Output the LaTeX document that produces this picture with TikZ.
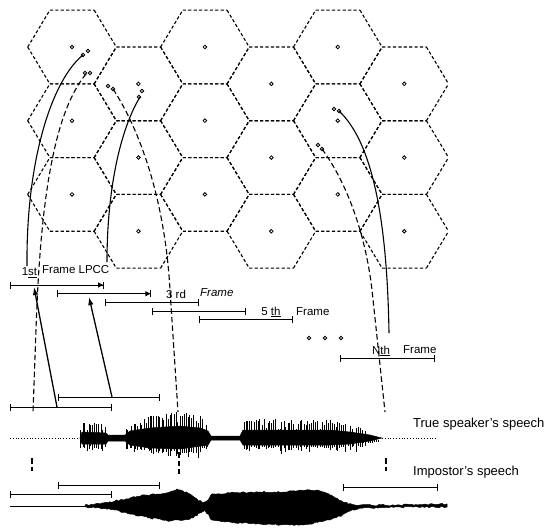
\documentclass[tikz,border=0pt]{standalone}
\usepackage{fontspec}
\setsansfont{Liberation Sans}
\usetikzlibrary{arrows.meta, decorations.pathmorphing}
\tikzset{
    cell/.style={black, line width=1.1pt, dash pattern=on 3.2pt off 2.2pt},
    site/.style={black, line width=0.8pt},
    track/.style={black, line width=1.1pt},
    trackdash/.style={black, line width=1.1pt, dash pattern=on 5.5pt off 3pt},
    frameline/.style={black, line width=0.9pt},
    ticks/.style={{Bar[width=7pt]}-{Bar[width=7pt]}},
    bartri/.style={{Bar[width=7pt]}-{Triangle[length=5pt,width=5pt]Bar[width=7pt]}},
    pick/.style={black, line width=1.3pt, -{Latex[length=8pt,width=5.5pt]}},
    spike/.style={black, line width=0.8pt},
    body/.style={fill=black, draw=black, line width=0.5pt},
    lbl/.style={inner sep=0pt, font=\sffamily\fontsize{11.5}{12}\selectfont},
    biglbl/.style={inner sep=0pt, anchor=west, font=\sffamily\fontsize{13}{14}\selectfont},
    common settings/.style={x=1pt, y=-1pt}
}

\begin{document}
\begin{tikzpicture}[common settings]

    \useasboundingbox (0,0) rectangle (551,528);

    % Configuration
    \def\hexR{44.3}     % circumradius of a cell
    \def\hexH{36.85}    % half height of a cell
    \def\xo{72}         % first cell centre
    \def\yo{47}

    % 1. Hexagonal code book cells (edges drawn left to right so shared ones coincide)
    \foreach \i in {0,...,5} {
        \foreach \j in {0,1,2} {
            \pgfmathsetmacro{\cx}{\xo + \i*1.5*\hexR}
            \pgfmathsetmacro{\cy}{\yo + \j*2*\hexH + mod(\i,2)*\hexH}
            \draw[cell] (\cx-\hexR,\cy) -- (\cx-\hexR/2,\cy-\hexH)
                        (\cx-\hexR,\cy) -- (\cx-\hexR/2,\cy+\hexH)
                        (\cx-\hexR/2,\cy-\hexH) -- (\cx+\hexR/2,\cy-\hexH)
                        (\cx-\hexR/2,\cy+\hexH) -- (\cx+\hexR/2,\cy+\hexH)
                        (\cx+\hexR/2,\cy-\hexH) -- (\cx+\hexR,\cy)
                        (\cx+\hexR/2,\cy+\hexH) -- (\cx+\hexR,\cy);
            \draw[site] (\cx,\cy) circle (1.8pt);
        }
    }

    % 2. Trajectories of the frames into the cells
    \coordinate (tA0) at (27,266);  \coordinate (tA1) at (83,55);
    \coordinate (tB0) at (33,412);  \coordinate (tB1) at (86,74);
    \coordinate (tC0) at (178,412); \coordinate (tC1) at (113,89);
    \coordinate (tE0) at (107,262); \coordinate (tE1) at (140,97);
    \coordinate (tF0) at (389,333); \coordinate (tF1) at (339,111);
    \coordinate (tD0) at (385,412); \coordinate (tD1) at (322,149);

    \draw[track] (tA0) .. controls (26,160) and (52,80) .. (tA1);
    \draw[track] (tE0) .. controls (107,190) and (120,130) .. (tE1);
    \draw[track] (tF0) .. controls (387,210) and (370,140) .. (tF1);
    \draw[trackdash] (tB1) .. controls (52,115) and (40,210) .. (36,330) -- (tB0);
    \draw[trackdash] (tC1) .. controls (140,130) and (165,200) .. (170,290) -- (tC0);
    \draw[trackdash] (tD1) .. controls (345,180) and (365,230) .. (372,290) -- (tD0);

    % end points of the trajectories
    \foreach \p in {(83,55),(88,51),(85,73),(90,73),(108,86),(113,89),
                    (142,91),(139,97),(334,109),(339,111),(318,145),(322,149)}
        \draw[site] \p circle (1.8pt);

    % 3. Frame lines
    \foreach \k/\tip in {1/bartri, 2/bartri, 3/ticks, 4/ticks, 5/ticks} {
        \pgfmathsetmacro{\fx}{10 + 47.3*(\k-1)}
        \pgfmathsetmacro{\fy}{285 + 8.7*(\k-1)}
        \coordinate (fr\k a) at (\fx,\fy);
        \coordinate (fr\k b) at (\fx+94,\fy);
        \draw[frameline,\tip] (fr\k a) -- (fr\k b);
    }
    \coordinate (frNa) at (340,358); \coordinate (frNb) at (435,358);
    \draw[frameline,ticks] (frNa) -- (frNb);

    \node[lbl] (first) at (29.5,273) {1\underline{st}};
    \node[lbl, anchor=west] (lpcc) at (42,270) {Frame LPCC};
    \node[lbl] (third) at (176,294) {3 rd};
    \node[lbl, anchor=west] (thirdfr) at (200,293) {\itshape Frame};
    \node[lbl] (fifth) at (271,312) {5 \underline{th}};
    \node[lbl, anchor=west] (fifthfr) at (296,312) {Frame};
    \node[lbl] (nth) at (381,351) {N\underline{th}};
    \node[lbl, anchor=west] (nthfr) at (403,350) {Frame};

    \foreach \x in {309,325,341}
        \draw[site] (\x,338) circle (1.8pt);

    % 4. True speaker's speech
    \coordinate (tsA1) at (10,407);  \coordinate (tsA2) at (112,407);
    \coordinate (tsB1) at (58,397);  \coordinate (tsB2) at (160,397);
    \draw[frameline,ticks] (tsA1) -- (tsA2);
    \draw[frameline,ticks] (tsB1) -- (tsB2);

    \coordinate (foot1) at (57,407); \coordinate (head1) at (34,287);
    \coordinate (foot2) at (112,397); \coordinate (head2) at (89,297);
    \draw[pick] (foot1) -- (head1);
    \draw[pick] (foot2) -- (head2);

    \draw[black, line width=0.8pt, dotted] (10,438) -- (80,438);
    \draw[black, line width=0.8pt, dotted] (382,438) -- (437,438);
    \fill[body] (80,438) -- (82,432) -- (106,433) -- (108,435) -- (125,435)
        -- (130,431) -- (150,428) -- (180,426) -- (200,428) -- (208,431)
        -- (211,436) -- (240,436) -- (243,430) -- (330,430) -- (350,432)
        -- (370,435) -- (382,438) -- (370,441) -- (350,444) -- (330,445)
        -- (243,445) -- (240,440) -- (211,440) -- (208,445) -- (180,449)
        -- (150,448) -- (130,445) -- (125,441) -- (108,441) -- (106,444)
        -- (82,444) -- cycle;

    \pgfmathsetseed{11}
    \foreach \xa/\xb/\ta/\tb/\bb in {81/106/421/425/446, 126/150/428/416/448,
            150/180/416/411/451, 180/200/411/416/452, 200/208/416/428/447,
            244/330/419/420/447, 330/360/420/427/446, 360/378/427/436/442} {
        \pgfmathtruncatemacro{\xc}{\xa+2}
        \foreach \x in {\xa,\xc,...,\xb} {
            \pgfmathsetmacro{\ytop}{\ta + (\tb-\ta)*(\x-\xa)/(\xb-\xa) + rnd*rnd*14}
            \pgfmathsetmacro{\ybot}{\bb + rnd*rnd*8}
            \pgfmathsetmacro{\xs}{\x + rnd - 0.5}
            \draw[spike] (\xs,437) -- (\xs,\ytop);
            \draw[spike] (\xs,440) -- (\xs,\ybot);
        }
    }

    \draw[trackdash] (32,458) -- (32,471);
    \draw[trackdash] (179,452) -- (179,474);
    \draw[trackdash] (386,458) -- (386,471);

    \node[biglbl] (truesp) at (413,424) {True speaker's speech};

    % 5. Impostor's speech
    \node[biglbl] (impsp) at (413,472) {Impostor's speech};

    \coordinate (imA1) at (58,485);  \coordinate (imA2) at (160,485);
    \coordinate (imB1) at (10,494);  \coordinate (imB2) at (112,494);
    \coordinate (imC1) at (343,487); \coordinate (imC2) at (438,487);
    \draw[frameline,ticks] (imA1) -- (imA2);
    \draw[frameline,ticks] (imB1) -- (imB2);
    \draw[frameline,ticks] (imC1) -- (imC2);

    \draw[black, line width=0.8pt] (10,506) -- (85,506);
    \fill[body, decorate, decoration={random steps, segment length=2pt, amplitude=0.8pt}]
        (85,505) -- (100,504) -- (115,501) -- (130,498) -- (145,495) -- (160,494)
        -- (170,492) -- (177,489) -- (183,491) -- (190,494) -- (197,499) -- (203,503)
        -- (208,500) -- (212,494) -- (230,493) -- (260,492) -- (283,492) -- (300,490)
        -- (317,490) -- (330,495) -- (343,502) -- (355,505) -- (400,505) -- (447,504)
        -- (447,507) -- (400,507) -- (360,508) -- (350,511) -- (340,516) -- (330,520)
        -- (310,524) -- (290,525) -- (260,524) -- (230,522) -- (212,520) -- (205,510)
        -- (200,513) -- (190,519) -- (170,521) -- (150,518) -- (130,514) -- (115,510)
        -- (100,508) -- (85,507) -- cycle;

\end{tikzpicture}
\end{document}
